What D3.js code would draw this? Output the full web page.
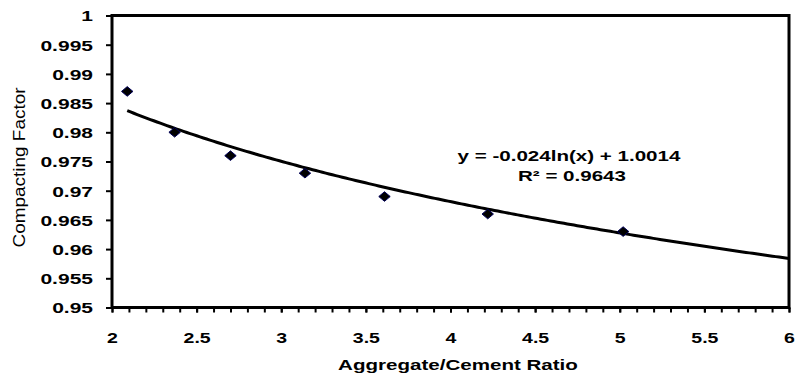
<!DOCTYPE html>
<html>
<head>
<meta charset="utf-8">
<script src="https://cdn.jsdelivr.net/npm/d3@7"></script>
<style>
  html, body { margin: 0; padding: 0; background: #fff; }
  svg { display: block; font-family: "Liberation Sans", Arial, sans-serif; }
</style>
</head>
<body>
<svg id="chart" width="795" height="375"></svg>
<script>
// Measured aggregate/cement ratios and compacting factors
const ratios = [2.09, 2.37, 2.70, 3.14, 3.61, 4.22, 5.02];
const compactingFactor = [0.987, 0.980, 0.976, 0.973, 0.969, 0.966, 0.963];

// Logarithmic trend line coefficients: y = a ln(x) + b
const trendA = -0.024;
const trendB = 1.0014;
const rSquared = 0.9643;

const xTicks = [2, 2.5, 3, 3.5, 4, 4.5, 5, 5.5, 6];
const yTicks = [0.95, 0.955, 0.96, 0.965, 0.97, 0.975, 0.98, 0.985, 0.99, 0.995, 1];

const W = 795, H = 375;
const plot = { left: 112, right: 789, top: 15.5, bottom: 307.5 };
const svg = d3.select("#chart");

const x = d3.scaleLinear().domain([2, 6]).range([plot.left, plot.right]);
const y = d3.scaleLinear().domain([0.95, 1]).range([plot.bottom, plot.top]);

// Widen text horizontally by a factor, keeping its anchor
function widen(sel, factor) {
  sel.each(function () {
    const w = this.getComputedTextLength();
    d3.select(this).attr("textLength", w * factor).attr("lengthAdjust", "spacingAndGlyphs");
  });
}

function styleAxis(g) {
  g.select(".domain").remove();
  g.attr("font-family", "'Liberation Sans', Arial, sans-serif")
   .attr("font-size", 15).attr("font-weight", "bold");
  g.selectAll("line").attr("stroke", "#000").attr("stroke-width", 2);
  g.selectAll("text").attr("fill", "#000");
}

// Minor ticks every 0.1 along the x axis
const xMinor = d3.range(20, 61).map(d => d / 10);
svg.append("g")
  .attr("transform", `translate(0,${plot.bottom})`)
  .call(d3.axisBottom(x).tickValues(xMinor).tickSize(5).tickFormat(""))
  .call(styleAxis);

// X axis labels
const xAxis = svg.append("g")
  .attr("transform", `translate(0,${plot.bottom})`)
  .call(d3.axisBottom(x).tickValues(xTicks).tickSize(5).tickFormat(d => String(d)))
  .call(styleAxis);
xAxis.selectAll("text").attr("y", 35).attr("dy", 0).call(widen, 1.3);

// Y axis
const yAxis = svg.append("g")
  .attr("transform", `translate(${plot.left},0)`)
  .call(d3.axisLeft(y).tickValues(yTicks).tickSize(6).tickFormat(d => String(+d.toFixed(3))))
  .call(styleAxis);
yAxis.selectAll("text").attr("x", -19).attr("dy", "0.36em").call(widen, 1.4);

// Plot frame
svg.append("rect")
  .attr("x", plot.left).attr("y", plot.top)
  .attr("width", plot.right - plot.left).attr("height", plot.bottom - plot.top)
  .attr("fill", "none").attr("stroke", "#000").attr("stroke-width", 3);

// Trend line
const x0 = d3.min(ratios);
const trendX = d3.range(0, 201).map(i => x0 + (6 - x0) * i / 200);
svg.append("path")
  .datum(trendX)
  .attr("fill", "none").attr("stroke", "#000").attr("stroke-width", 3)
  .attr("d", d3.line().x(d => x(d)).y(d => y(trendA * Math.log(d) + trendB)));

// Data markers: flat diamonds
const flatDiamond = {
  draw(ctx, size) {
    const w = Math.sqrt(size) * 0.62, h = w * 0.84;
    ctx.moveTo(0, -h); ctx.lineTo(w, 0); ctx.lineTo(0, h); ctx.lineTo(-w, 0); ctx.closePath();
  }
};
svg.append("g").selectAll("path")
  .data(ratios.map((r, i) => [r, compactingFactor[i]]))
  .join("path")
  .attr("transform", d => `translate(${x(d[0])},${y(d[1])})`)
  .attr("d", d3.symbol().type(flatDiamond).size(85))
  .attr("fill", "#000")
  .attr("stroke", "#00005a").attr("stroke-width", 1);

// Trend equation
svg.append("text")
  .attr("x", 569).attr("y", 161)
  .attr("text-anchor", "middle")
  .attr("font-size", 15).attr("font-weight", "bold").attr("fill", "#000")
  .text(`y = ${trendA}ln(x) + ${trendB}`)
  .call(widen, 1.37);
svg.append("text")
  .attr("x", 572).attr("y", 180.5)
  .attr("text-anchor", "middle")
  .attr("font-size", 15).attr("font-weight", "bold").attr("fill", "#000")
  .text(`R² = ${rSquared}`)
  .call(widen, 1.37);

// Axis titles
svg.append("text")
  .attr("x", 458).attr("y", 370)
  .attr("text-anchor", "middle")
  .attr("font-size", 15).attr("font-weight", "bold").attr("fill", "#000")
  .text("Aggregate/Cement Ratio")
  .call(widen, 1.37);

svg.append("text")
  .attr("transform", `translate(25,167.5) rotate(-90)`)
  .attr("text-anchor", "middle")
  .attr("font-size", 16).attr("fill", "#000")
  .text("Compacting Factor")
  .attr("textLength", 160).attr("lengthAdjust", "spacingAndGlyphs");
</script>
</body>
</html>
